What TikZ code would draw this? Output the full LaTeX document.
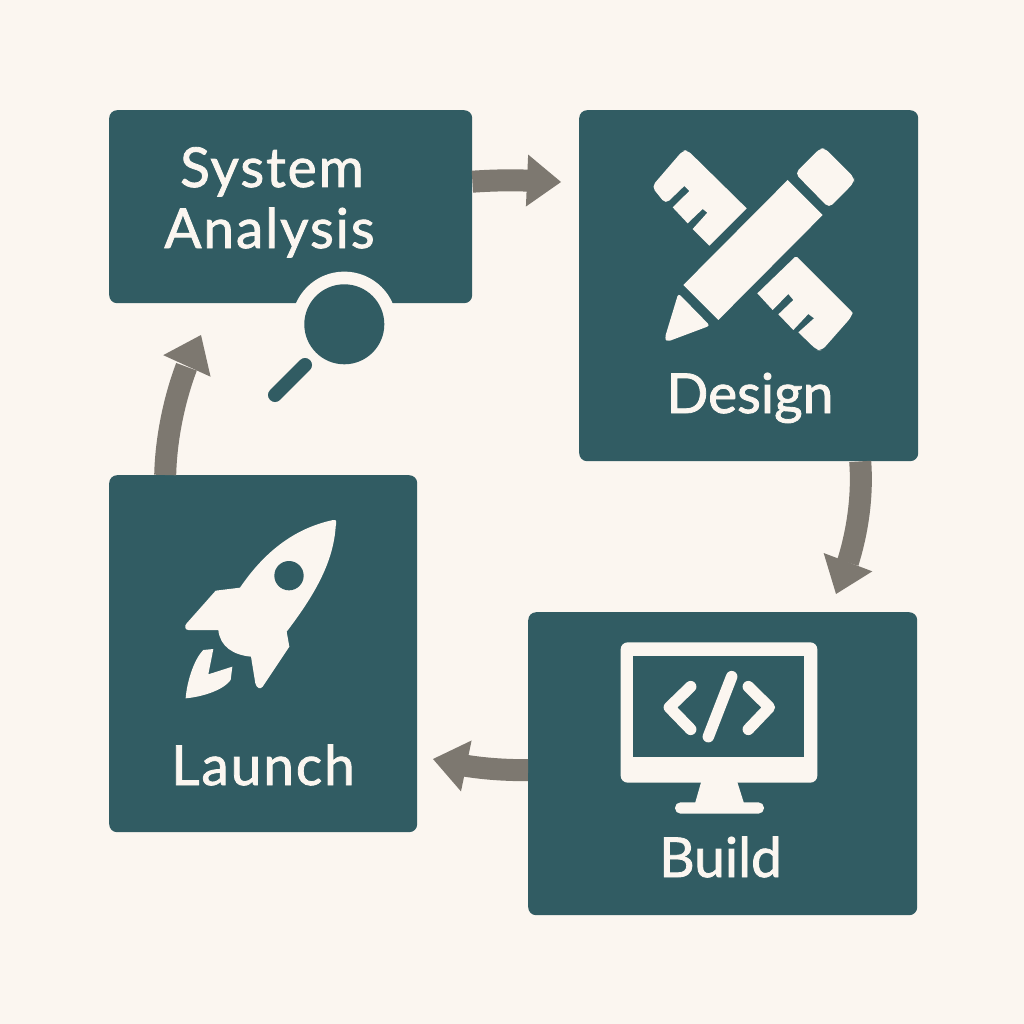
\documentclass[tikz,border=0pt]{standalone}
\usepackage{fontspec}
\setmainfont{Lato}[FakeBold=1.5]
\newfontfamily\widelato{Lato}[FakeBold=1.5,LetterSpace=3.5]
\usetikzlibrary{arrows.meta,bending}
\definecolor{bgc}{HTML}{FBF6F0}
\definecolor{teal}{HTML}{315C63}
\definecolor{arrowc}{HTML}{7D7870}
\tikzset{
  stage/.style={draw=none,fill=teal,rounded corners=8pt,inner sep=0pt,anchor=north west},
  lbl/.style={text=bgc,font=\fontsize{55}{55}\selectfont,anchor=base,inner sep=0pt},
  widelbl/.style={text=bgc,font=\fontsize{55}{55}\selectfont\widelato,anchor=base,inner sep=0pt},
  flow/.style={draw=arrowc,line width=22pt,-{Triangle[length=34pt,width=52pt,line width=0pt,flex]}},
  icon/.style={fill=bgc,draw=none},
  codeline/.style={draw=bgc,line width=11.5pt,line cap=round,line join=round},
  zoomed/.style={x=0.33333pt,y=-0.33333pt,shift={(#1)}}
}
\begin{document}
\begin{tikzpicture}[x=1pt,y=-1pt]
\useasboundingbox (0,0) rectangle (1024,1024);
\fill[bgc] (0,0) rectangle (1024,1024);

% stage boxes
\node[stage,minimum width=363pt,minimum height=193pt] (analysis) at (109,110) {};
\node[stage,minimum width=339pt,minimum height=351pt] (design) at (579,110) {};
\node[stage,minimum width=389pt,minimum height=303pt] (build) at (528,612) {};
\node[stage,minimum width=308pt,minimum height=357pt] (launch) at (109,475) {};

% free ends of the connectors (arrow tips)
\coordinate (tipdesign) at (561,182);
\coordinate (tipbuild) at (836,594);
\coordinate (tiplaunch) at (433,759);
\coordinate (tipanalysis) at (201,335);

% connectors
\draw[flow] ([yshift=25pt]analysis.east) .. controls +(30,-2) and +(-40,-2) .. (tipdesign);
\draw[flow] ([xshift=111.5pt]design.south) .. controls +(3,40) and +(20,-45) .. (tipbuild);
\draw[flow] ([yshift=-6.5pt]build.west) .. controls +(-30,0) and +(35,9) .. (tiplaunch);
\draw[flow] ([xshift=-98pt]launch.north) .. controls +(1,-45) and +(-22,40) .. (tipanalysis);

% labels
\node[widelbl] (t1) at (272,187) {System};
\node[widelbl] (t2) at (269.5,248) {Analysis};
\node[lbl] (t3) at (750,413) {Design};
\node[lbl] (t4) at (720.5,877) {Build};
\node[widelbl] (t5) at (263,785) {Launch};

% magnifier
\fill[bgc] (344.3,324.3) circle[radius=52.7];
\fill[teal] (344.3,324.3) circle[radius=40];
\draw[teal,line width=14pt,line cap=round] (275,395) -- (305,365);

% design icon
\begin{scope}[zoomed={630pt,-130pt}]
  \fill[icon,rounded corners=1.5pt] (65,170) [rounded corners=5pt] -- (107,222) [sharp corners] -- (163,168) -- (178,183) -- (128,232) -- (173,280) -- (218,237) -- (232,248) -- (188,297) -- (238,347) -- (350,235) [rounded corners=5pt] -- (172,60) -- (158,62) -- cycle;
  \fill[icon] (473,150) -- (578,255) -- (265,570) -- (160,465) -- cycle;
  \fill[icon,rounded corners=5pt] (495,130) -- (570,55) -- (585,55) -- (672,142) -- (672,158) -- (597,234) -- cycle;
  \fill[icon,rounded corners=3pt] (145,490) -- (240,587) -- (112,635) -- (104,625) -- cycle;
  \fill[icon,rounded corners=1.5pt] (382,490) -- (498,378) -- (668,548) [rounded corners=5pt] -- (665,560) -- (575,662) -- (560,660) [sharp corners] -- (505,607) -- (552,565) -- (535,552) -- (490,600) -- (445,553) -- (490,510) -- (475,492) -- (428,540) -- cycle;
\end{scope}

% rocket icon
\begin{scope}[zoomed={170pt,-500pt}]
  \fill[icon] (490,60) .. controls (500,58) and (500,65) .. (497,80)
    .. controls (490,190) and (430,290) .. (350,395)
    -- (358,440) -- (278,560) .. controls (272,568) and (260,566) .. (256,550)
    -- (243,470) .. controls (190,465) and (150,440) .. (145,390)
    -- (55,390) .. controls (45,390) and (42,378) .. (50,370)
    -- (137,272) -- (210,263)
    .. controls (280,160) and (370,85) .. (490,60) -- cycle;
  \fill[teal] (357,227) circle[radius=44];
  \fill[icon] (130,447) -- (100,450) .. controls (70,480) and (50,550) .. (47,595)
    .. controls (100,590) and (160,570) .. (182,540) -- (187,500) -- (115,523) -- cycle;
\end{scope}

% monitor icon
\begin{scope}[zoomed={600pt,-630pt}]
  \fill[icon,rounded corners=7pt] (62,37) rectangle (652,458);
  \fill[teal] (100,78) rectangle (612,380);
  \fill[icon] (305,450) -- (410,450) -- (432,520) -- (285,520) -- cycle;
  \fill[icon,rounded corners=5.5pt] (225,517) rectangle (492,551);
  \draw[codeline] (272,170) -- (208,232) -- (272,298);
  \draw[codeline] (445,170) -- (508,232) -- (445,298);
  \draw[codeline] (395,140) -- (325,320);
\end{scope}
\end{tikzpicture}
\end{document}
